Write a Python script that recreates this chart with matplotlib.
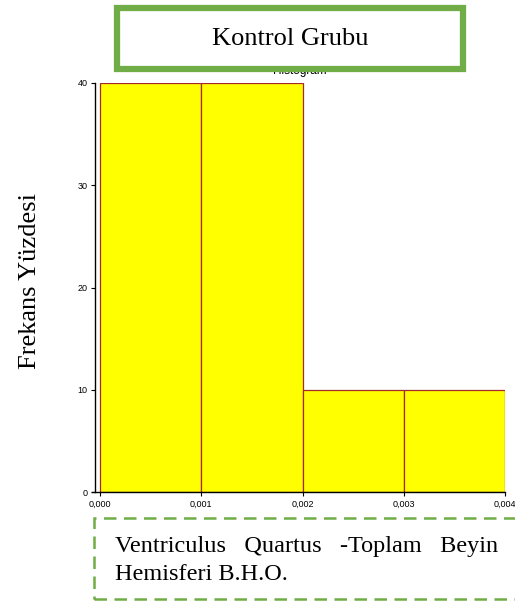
import matplotlib
matplotlib.use("Agg")
import matplotlib.pyplot as plt
from matplotlib.patches import Rectangle

# Data
bin_edges = [0.000, 0.001, 0.002, 0.003, 0.004]
frequencies = [40, 40, 10, 10]
x_ticks = [0.000, 0.001, 0.002, 0.003, 0.004]
x_tick_labels = ["0,000", "0,001", "0,002", "0,003", "0,004"]
y_ticks = [0, 10, 20, 30, 40]
y_tick_labels = ["0", "10", "20", "30", "40"]
title_box_text = "Kontrol Grubu"
y_label = "Frekans Yüzdesi"
x_label_line1 = ["Ventriculus", "Quartus", "-Toplam", "Beyin"]
x_label_line2 = "Hemisferi B.H.O."

W, H = 515, 606
fig = plt.figure(figsize=(W / 100, H / 100), dpi=100)

def fx(px):
    return px / W

def fy(py):
    return 1 - py / H

ax_left, ax_right, ax_top, ax_bottom = 95, 505, 83, 492
ax = fig.add_axes([fx(ax_left), fy(ax_bottom), fx(ax_right) - fx(ax_left), fy(ax_top) - fy(ax_bottom)])

widths = [bin_edges[i + 1] - bin_edges[i] for i in range(len(frequencies))]
ax.bar(bin_edges[:-1], frequencies, width=widths, align="edge",
       color="#FFFF00", edgecolor="#A52A2A", linewidth=0.9)

ax.set_xlim(-0.00005, 0.004)
ax.set_ylim(0, 40)
ax.spines["top"].set_visible(False)
ax.spines["right"].set_visible(False)
ax.spines["left"].set_linewidth(1.0)
ax.spines["bottom"].set_linewidth(1.0)
ax.spines["bottom"].set_bounds(-0.00008, 0.004)
ax.set_xticks(x_ticks)
ax.set_xticklabels(x_tick_labels, fontsize=6.5, family="Liberation Sans")
ax.set_yticks(y_ticks)
ax.set_yticklabels(y_tick_labels, fontsize=6.5, family="Liberation Sans")
ax.tick_params(axis="both", length=3, width=0.8, pad=2.5)
ax.set_title("Histogram", fontsize=8.5, family="Liberation Sans", pad=6.5)

# Green title box (drawn over the "Histogram" title)
box = Rectangle((fx(117), fy(69)), fx(463) - fx(117), fy(8) - fy(69),
                transform=fig.transFigure, facecolor="white",
                edgecolor="#70AD47", linewidth=4.5, zorder=10)
fig.add_artist(box)
fig.text(fx(290), fy(39), title_box_text, ha="center", va="center",
         fontsize=19, family="Liberation Serif", color="black", zorder=11)

# Y label
fig.text(fx(30), fy(281), y_label, rotation=90, ha="center", va="center",
         fontsize=19, family="Liberation Serif", color="black")

# Dashed bottom box
dbox = Rectangle((fx(94), fy(599)), fx(525) - fx(94), fy(518) - fy(599),
                 transform=fig.transFigure, facecolor="none",
                 edgecolor="#70AD47", linewidth=1.8, linestyle=(0, (5, 3)),
                 zorder=10, clip_on=False)
fig.add_artist(dbox)

fig.text(fx(115), fy(552), "   ".join(x_label_line1), ha="left", va="baseline",
         fontsize=17.5, family="Liberation Serif", color="black")
fig.text(fx(115), fy(580), x_label_line2, ha="left", va="baseline",
         fontsize=17.5, family="Liberation Serif", color="black")

fig.savefig("out.png", dpi=100)
